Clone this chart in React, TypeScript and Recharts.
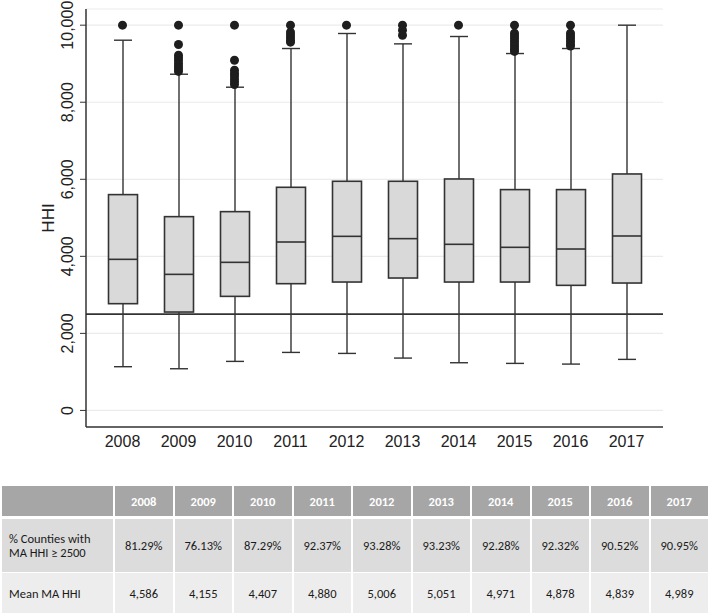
import React from "react";
import { ComposedChart, Bar, Scatter, XAxis, YAxis, CartesianGrid, ReferenceLine } from "recharts";

const years = ["2008", "2009", "2010", "2011", "2012", "2013", "2014", "2015", "2016", "2017"];
const whiskerLow = [1135, 1082, 1273, 1506, 1480, 1359, 1238, 1221, 1203, 1325];
const quartile1 = [2771, 2554, 2961, 3290, 3333, 3437, 3333, 3333, 3247, 3307];
const medians = [3922, 3532, 3844, 4372, 4519, 4459, 4312, 4234, 4190, 4528];
const quartile3 = [5602, 5030, 5160, 5792, 5948, 5948, 6008, 5732, 5732, 6138];
const whiskerHigh = [9610, 8727, 8390, 9394, 9784, 9515, 9706, 9264, 9394, 10000];

const outlierYears = [
  "2008",
  "2009", "2009", "2009", "2009", "2009", "2009", "2009", "2009", "2009",
  "2010", "2010", "2010", "2010", "2010", "2010", "2010", "2010",
  "2011", "2011", "2011", "2011", "2011", "2011",
  "2012",
  "2013", "2013", "2013",
  "2014",
  "2015", "2015", "2015", "2015", "2015", "2015", "2015", "2015", "2015",
  "2016", "2016", "2016", "2016", "2016", "2016", "2016",
];
const outlierValues = [
  10000,
  10000, 9500, 9220, 9150, 9080, 9000, 8930, 8860, 8800,
  10000, 9090, 8830, 8750, 8680, 8600, 8530, 8460,
  10000, 9820, 9750, 9680, 9610, 9560,
  10000,
  10000, 9870, 9740,
  10000,
  10000, 9790, 9720, 9650, 9580, 9510, 9440, 9370, 9320,
  10000, 9790, 9720, 9650, 9580, 9510, 9460,
];

const yTicks = [0, 2000, 4000, 6000, 8000, 10000];
const threshold = 2500;

const rowLabels = ["% Counties with\nMA HHI \u2265 2500", "Mean MA HHI"];
const pctCounties = ["81.29%", "76.13%", "87.29%", "92.37%", "93.28%", "93.23%", "92.28%", "92.32%", "90.52%", "90.95%"];
const meanHHI = ["4,586", "4,155", "4,407", "4,880", "5,006", "5,051", "4,971", "4,878", "4,839", "4,989"];

const boxData = years.map((year, i) => ({
  year,
  low: whiskerLow[i],
  q1: quartile1[i],
  median: medians[i],
  q3: quartile3[i],
  high: whiskerHigh[i],
}));

const outlierData = outlierYears.map((year, i) => ({ year, value: outlierValues[i] }));

const INK = "#333333";

function BoxShape(props: any) {
  const { x, y, width, height, payload } = props;
  const { low, q1, median, q3, high } = payload;
  // map a value inside the [low, high] range onto the bar's pixels
  const py = (v: number) => y + (height * (high - v)) / (high - low);
  const cx = x + width / 2;
  const cap = 9;
  return (
    <g>
      <line x1={cx} x2={cx} y1={py(high)} y2={py(low)} stroke={INK} strokeWidth={1.4} />
      <line x1={cx - cap} x2={cx + cap} y1={py(high)} y2={py(high)} stroke={INK} strokeWidth={1.4} />
      <line x1={cx - cap} x2={cx + cap} y1={py(low)} y2={py(low)} stroke={INK} strokeWidth={1.4} />
      <rect x={x} y={py(q3)} width={width} height={py(q1) - py(q3)} fill="#d9d9d9" stroke={INK} strokeWidth={1.6} />
      <line x1={x} x2={x + width} y1={py(median)} y2={py(median)} stroke={INK} strokeWidth={1.6} />
    </g>
  );
}

function YTick(props: any) {
  const { x, y, payload } = props;
  const tx = 68;
  return (
    <g>
      <line x1={x + 2} x2={x + 8} y1={y} y2={y} stroke={INK} strokeWidth={1} />
      <text
        x={tx}
        y={y}
        transform={`rotate(-90, ${tx}, ${y})`}
        textAnchor="middle"
        dominantBaseline="central"
        fontSize={16}
        fill="#222"
        fontFamily="'Liberation Sans', Arial, sans-serif"
      >
        {Number(payload.value).toLocaleString("en-US")}
      </text>
    </g>
  );
}

function XTick(props: any) {
  const { x, y, payload } = props;
  return (
    <text x={x} y={y + 6} textAnchor="middle" dominantBaseline="central" fontSize={16} fill="#222"
      fontFamily="'Liberation Sans', Arial, sans-serif">
      {payload.value}
    </text>
  );
}

function Dot(props: any) {
  const { cx, cy } = props;
  return <circle cx={cx} cy={cy} r={4.5} fill="#1e1e1e" />;
}

const cellFont = "Carlito, Calibri, Lato, 'Open Sans', sans-serif";

function StatsTable() {
  const firstW = 111;
  const colW = 59.5;
  const cell = (w: number, h: number, bg: string, extra: React.CSSProperties = {}): React.CSSProperties => ({
    width: w,
    height: h,
    background: bg,
    boxSizing: "border-box",
    borderRight: "2px solid #fff",
    display: "flex",
    alignItems: "center",
    justifyContent: "center",
    fontSize: 12.5,
    color: "#1a1a1a",
    ...extra,
  });
  const row: React.CSSProperties = { display: "flex" };
  return (
    <div style={{ position: "absolute", left: 2, top: 486, width: 708, fontFamily: cellFont }}>
      <div style={{ ...row, borderBottom: "3px solid #fff" }}>
        <div style={cell(firstW + 2, 30, "#a6a6a6")} />
        {years.map((yr) => (
          <div key={yr} style={cell(colW, 30, "#a6a6a6", { color: "#fff", fontWeight: 700 })}>
            {yr}
          </div>
        ))}
      </div>
      <div style={{ ...row, borderBottom: "1px solid #fff" }}>
        <div style={cell(firstW + 2, 53, "#dcdcdc", { justifyContent: "flex-start", paddingLeft: 7, whiteSpace: "pre-line", lineHeight: "14px" })}>
          {rowLabels[0]}
        </div>
        {pctCounties.map((v, i) => (
          <div key={i} style={cell(colW, 53, "#dcdcdc")}>{v}</div>
        ))}
      </div>
      <div style={row}>
        <div style={cell(firstW + 2, 40, "#ededed", { justifyContent: "flex-start", paddingLeft: 7 })}>
          {rowLabels[1]}
        </div>
        {meanHHI.map((v, i) => (
          <div key={i} style={cell(colW, 40, "#ededed")}>{v}</div>
        ))}
      </div>
    </div>
  );
}

export default function App() {
  return (
    <div style={{ position: "absolute", left: 0, top: 0, width: 709, height: 615, background: "#fff" }}>
      <ComposedChart width={709} height={470} data={boxData} margin={{ top: 9, right: 46, left: 0, bottom: 0 }}>
        <CartesianGrid vertical={false} stroke="#ebebeb" strokeWidth={1.2} />
        <XAxis
          dataKey="year"
          type="category"
          allowDuplicatedCategory={false}
          padding={{ left: 8.5, right: 8.5 }}
          height={43}
          tickLine={false}
          axisLine={{ stroke: INK, strokeWidth: 1.5 }}
          tick={<XTick />}
          interval={0}
        />
        <YAxis
          type="number"
          domain={[-430, 10420]}
          ticks={yTicks}
          width={86}
          tickLine={false}
          axisLine={{ stroke: INK, strokeWidth: 1.5 }}
          tick={<YTick />}
          label={{
            value: "HHI",
            angle: -90,
            position: "insideLeft",
            dx: 43,
            style: { fontSize: 17, fill: "#222", fontFamily: "'Liberation Sans', Arial, sans-serif", textAnchor: "middle" },
          }}
        />
        <ReferenceLine y={threshold} stroke={INK} strokeWidth={1.6} />
        <Bar
          dataKey={(d: any) => [d.low, d.high]}
          barSize={29}
          shape={<BoxShape />}
          isAnimationActive={false}
        />
        <Scatter data={outlierData} dataKey="value" shape={<Dot />} isAnimationActive={false} />
      </ComposedChart>
      <StatsTable />
    </div>
  );
}
